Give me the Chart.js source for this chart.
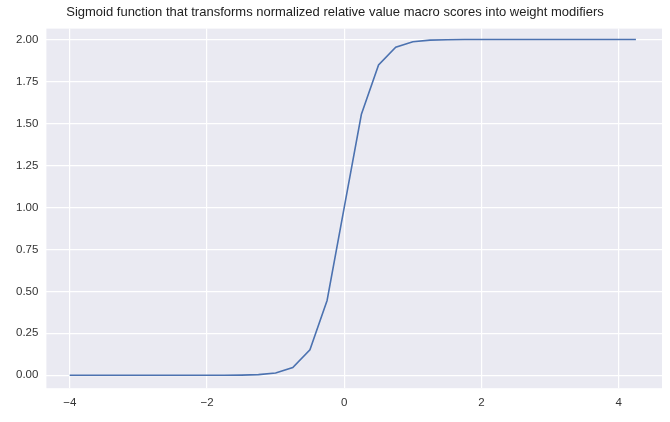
<!DOCTYPE html>
<html><head><meta charset="utf-8">
<script src="https://cdn.jsdelivr.net/npm/chart.js@4/dist/chart.umd.min.js"></script>
<style>html,body{margin:0;padding:0;background:#fff}#w{width:670px;height:422px}</style>
</head><body><div id="w"><canvas id="c"></canvas></div>
<script>
const xValues = [-4,-3.75,-3.5,-3.25,-3,-2.75,-2.5,-2.25,-2,-1.75,-1.5,-1.25,-1,-0.75,-0.5,-0.25,0,0.25,0.5,0.75,1,1.25,1.5,1.75,2,2.25,2.5,2.75,3,3.25,3.5,3.75,4,4.25];
const yValues = [0,0,0,0,0,0,0,0,0.0001,0.0003,0.0011,0.0039,0.0134,0.046,0.1517,0.4454,1,1.5546,1.8483,1.954,1.9866,1.9962,1.9989,1.9997,1.9999,2,2,2,2,2,2,2,2,2];
const xTicks = [-4,-2,0,2,4];
const yTicks = [0,0.25,0.5,0.75,1,1.25,1.5,1.75,2];
const titleText = 'Sigmoid function that transforms normalized relative value macro scores into weight modifiers';
const bgPlugin = {id:'bg',beforeDraw(ch){const a=ch.chartArea,c=ch.ctx;c.save();c.fillStyle='#EAEAF2';c.fillRect(a.left,a.top,a.right-a.left,a.bottom-a.top);c.restore();}};
new Chart(document.getElementById('c'),{
 type:'line',
 data:{datasets:[{data:xValues.map((x,i)=>({x,y:yValues[i]})),borderColor:'#4C72B0',borderWidth:1.6,pointRadius:0,tension:0}]},
 options:{responsive:true,maintainAspectRatio:false,animation:false,
  layout:{padding:{left:8,right:8,top:0,bottom:4}},
  plugins:{legend:{display:false},tooltip:{enabled:false},
   title:{display:true,text:titleText,color:'#222',font:{family:'Liberation Sans',size:13,weight:'normal'},padding:{top:5,bottom:8}}},
  scales:{
   x:{type:'linear',min:-4.34,max:4.63,afterBuildTicks(s){s.ticks=xTicks.map(v=>({value:v}));},
      grid:{color:'#fff',lineWidth:1.2,drawTicks:false},border:{display:false},
      ticks:{color:'#333',font:{family:'Liberation Sans',size:11.5},padding:8,callback:v=>v<0?'\u2212'+(-v):String(v)}},
   y:{min:-0.077,max:2.065,afterBuildTicks(s){s.ticks=yTicks.map(v=>({value:v}));},
      grid:{color:'#fff',lineWidth:1.2,drawTicks:false},border:{display:false},
      ticks:{color:'#333',font:{family:'Liberation Sans',size:11.5},padding:8,callback:v=>v.toFixed(2)}}
  }},
 plugins:[bgPlugin]
});
</script></body></html>
